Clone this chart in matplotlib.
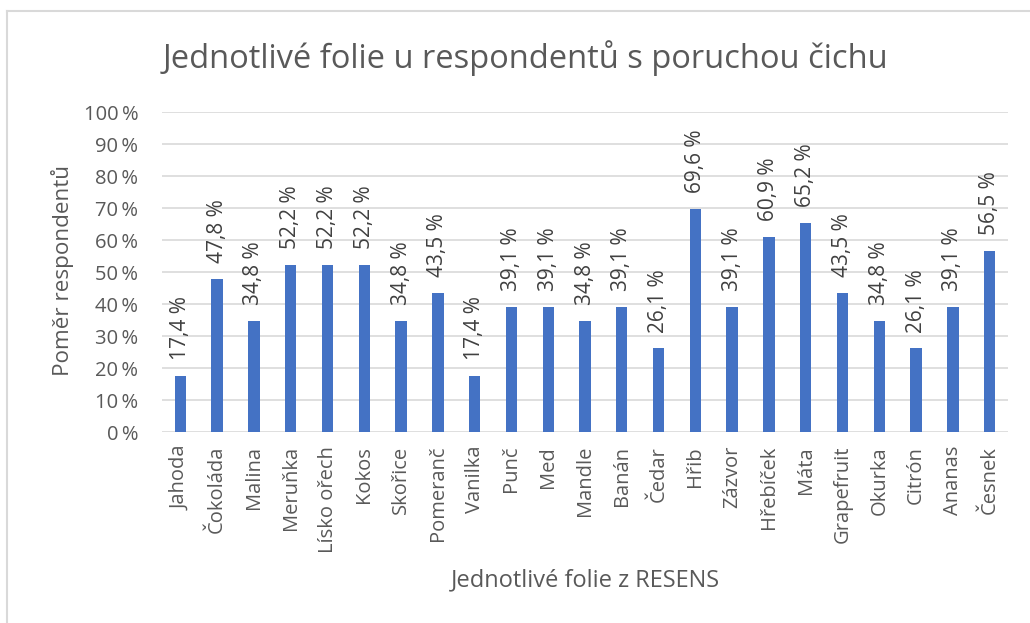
import matplotlib.pyplot as plt
from matplotlib.lines import Line2D

# --- Data ---
categories = ['Jahoda', 'Čokoláda', 'Malina', 'Meruňka', 'Lísko ořech', 'Kokos',
              'Skořice', 'Pomeranč', 'Vanilka', 'Punč', 'Med', 'Mandle', 'Banán',
              'Čedar', 'Hřib', 'Zázvor', 'Hřebíček', 'Máta', 'Grapefruit',
              'Okurka', 'Citrón', 'Ananas', 'Česnek']
values = [17.4, 47.8, 34.8, 52.2, 52.2, 52.2, 34.8, 43.5, 17.4, 39.1, 39.1,
          34.8, 39.1, 26.1, 69.6, 39.1, 60.9, 65.2, 43.5, 34.8, 26.1, 39.1, 56.5]
yticks = list(range(0, 101, 10))

TEXT = '#595959'
BAR = '#4472C4'
GRID = '#D9D9D9'

plt.rcParams['font.family'] = ['Open Sans', 'DejaVu Sans']

fig = plt.figure(figsize=(10.3, 6.23), dpi=100)
ax = fig.add_axes([162 / 1030, 1 - 432 / 623, 846 / 1030, 320 / 623])

# chart frame (left + top edges visible)
fig.add_artist(Line2D([7 / 1030, 7 / 1030], [0, 1 - 11 / 623],
                      transform=fig.transFigure, color=GRID, lw=1.5))
fig.add_artist(Line2D([7 / 1030, 1], [1 - 11 / 623, 1 - 11 / 623],
                      transform=fig.transFigure, color=GRID, lw=1.5))

x = range(len(categories))
ax.bar(x, values, width=0.31, color=BAR, zorder=3)

for xi, v in zip(x, values):
    ax.annotate(f'{v:.1f} %'.replace('.', ','), (xi, v), xytext=(0, 11.5),
                textcoords='offset points', rotation=90, ha='center', va='bottom',
                fontsize=15, color='#404040')

ax.set_xlim(-0.5, len(categories) - 0.5)
ax.set_ylim(0, 100)
ax.set_yticks(yticks)
ax.set_yticklabels([f'{t}\u2009%' for t in yticks], fontsize=14.5, color=TEXT)
ax.set_xticks(list(x))
ax.set_xticklabels(categories, rotation=90, fontsize=14.5, color=TEXT)
ax.tick_params(axis='x', length=0, pad=10)
ax.tick_params(axis='y', length=0, pad=17)
ax.grid(axis='y', color=GRID, lw=1.2, zorder=0)
for s in ax.spines.values():
    s.set_visible(False)

fig.text(525 / 1030, 1 - 58 / 623, 'Jednotlivé folie u respondentů s poruchou čichu',
         ha='center', va='center', fontsize=23.5, color=TEXT)
fig.text(62 / 1030, 1 - 271 / 623, 'Poměr respondentů', rotation=90,
         ha='center', va='center', fontsize=16.2, color=TEXT)
fig.text(585 / 1030, 1 - 580 / 623, 'Jednotlivé folie z RESENS',
         ha='center', va='center', fontsize=17, color=TEXT)

fig.savefig('out.png', dpi=100, facecolor='white')
